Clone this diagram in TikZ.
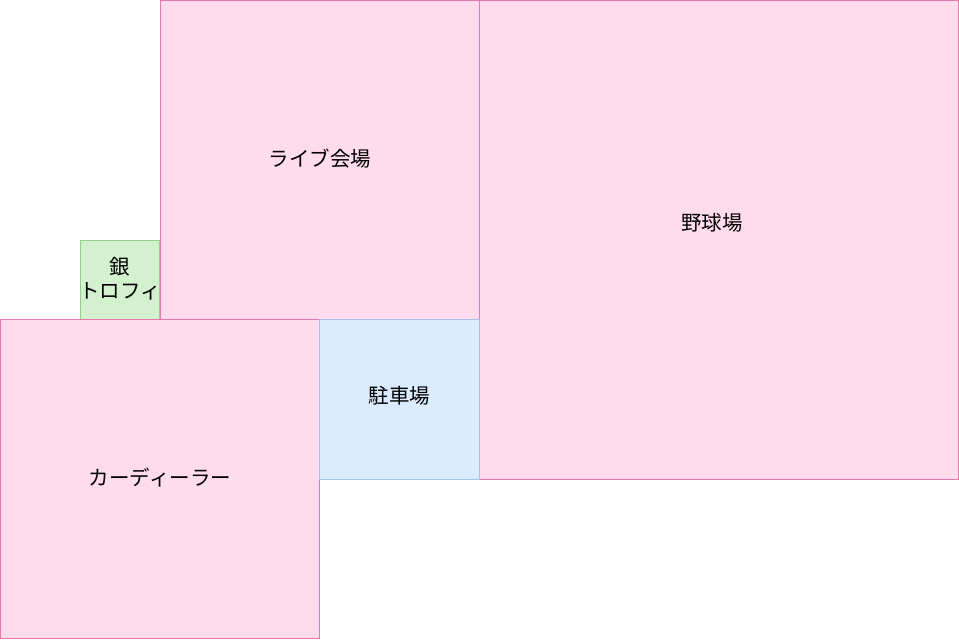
\documentclass[tikz,border=0pt]{standalone}
\usepackage{fontspec}
\setmainfont{Noto Sans CJK JP}
\definecolor{pinkfill}{HTML}{FFDCEB}
\definecolor{pinkline}{HTML}{E87AB2}
\definecolor{bluefill}{HTML}{DAEBFD}
\definecolor{blueline}{HTML}{A3C3EA}
\definecolor{greenfill}{HTML}{D4F1CF}
\definecolor{greenline}{HTML}{97CE8E}
\tikzset{
    pinkarea/.style={fill=pinkfill, draw=pinkline, line width=0.8pt},
    bluearea/.style={fill=bluefill, draw=blueline, line width=0.8pt},
    greenarea/.style={fill=greenfill, draw=greenline, line width=0.8pt},
    lbl/.style={font=\fontsize{20.5}{24}\selectfont, align=center, text=black}
}
\begin{document}
\begin{tikzpicture}[x=1pt, y=-1pt]
        \useasboundingbox (0,0) rectangle (959,640);
        \filldraw[pinkarea] (160.5,0.5) rectangle ++(319,319) node[midway,lbl,yshift=1.5pt] (live) {ライブ会場};
        \filldraw[pinkarea] (479.5,0.5) rectangle ++(479,479);
        \node[lbl] (stadium) at (712,222.5) {野球場};
        \filldraw[greenarea] (80.5,240.5) rectangle ++(79,79) node[midway,lbl,yshift=1pt] (trophy) {銀\\トロフィ};
        \filldraw[pinkarea] (0.5,319.5) rectangle ++(319,319) node[midway,lbl,yshift=1pt] (dealer) {カーディーラー};
        \filldraw[bluearea] (319.5,319.5) rectangle ++(160,159.5) node[midway,lbl,yshift=4pt] (parking) {駐車場};
    \end{tikzpicture}
\end{document}
